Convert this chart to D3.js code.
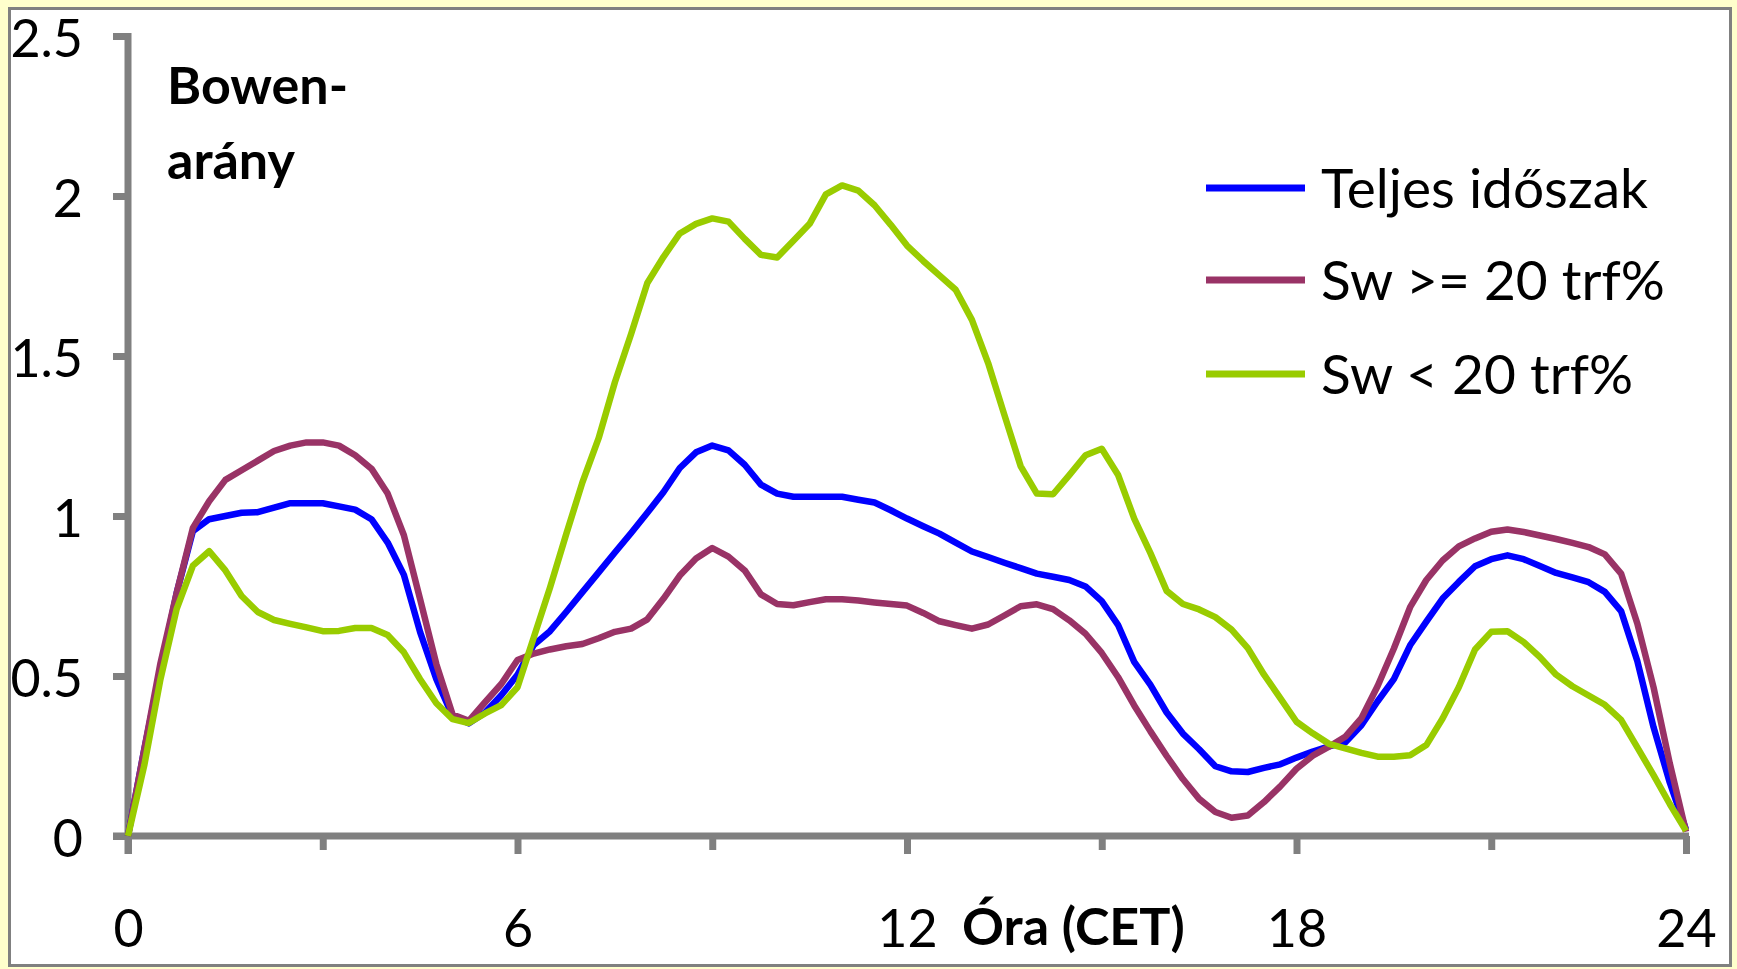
<!DOCTYPE html>
<html>
<head>
<meta charset="utf-8">
<script src="https://cdn.jsdelivr.net/npm/d3@7/dist/d3.min.js"></script>
<style>
  html, body { margin: 0; padding: 0; background: #ffffcc; }
  svg { display: block; }
  text { font-family: Lato, "Open Sans", sans-serif; fill: #000; }
</style>
</head>
<body>
<svg id="chart" width="1737" height="969"></svg>
<script>
// Hour of day (CET), quarter-hour steps from 0 to 24
const hours = d3.range(97).map(i => i / 4);

// Bowen ratio, whole period
const teljes = [
  0.00, 0.27, 0.52, 0.76, 0.953, 0.99, 1.00, 1.01, 1.012, 1.026, 1.04, 1.04, 1.04,
  1.03, 1.02, 0.99, 0.917, 0.816, 0.637, 0.49, 0.374, 0.352, 0.386, 0.44, 0.504,
  0.597, 0.64, 0.70, 0.762, 0.824, 0.886, 0.947, 1.01, 1.075, 1.15, 1.199, 1.22,
  1.205, 1.16, 1.098, 1.07, 1.06, 1.06, 1.06, 1.06, 1.051, 1.042, 1.018, 0.992,
  0.968, 0.945, 0.917, 0.889, 0.872, 0.854, 0.837, 0.82, 0.81, 0.80, 0.78, 0.734,
  0.66, 0.544, 0.472, 0.386, 0.32, 0.271, 0.218, 0.202, 0.20, 0.213, 0.224, 0.245,
  0.264, 0.28, 0.292, 0.346, 0.421, 0.49, 0.596, 0.67, 0.742, 0.794, 0.843, 0.865,
  0.877, 0.865, 0.844, 0.822, 0.808, 0.793, 0.763, 0.703, 0.547, 0.34, 0.167, 0.02
];

// Bowen ratio, soil water >= 20 vol%
const swHigh = [
  0.00, 0.27, 0.54, 0.76, 0.963, 1.046, 1.113, 1.143, 1.173, 1.203, 1.22, 1.23, 1.23,
  1.22, 1.19, 1.148, 1.07, 0.94, 0.74, 0.537, 0.38, 0.36, 0.418, 0.475, 0.55,
  0.57, 0.583, 0.593, 0.60, 0.618, 0.638, 0.648, 0.677, 0.742, 0.814, 0.867, 0.90,
  0.873, 0.83, 0.755, 0.725, 0.721, 0.731, 0.74, 0.74, 0.736, 0.73, 0.725, 0.72,
  0.697, 0.671, 0.659, 0.648, 0.661, 0.689, 0.718, 0.724, 0.709, 0.674, 0.632, 0.572,
  0.497, 0.408, 0.327, 0.25, 0.178, 0.116, 0.075, 0.057, 0.064, 0.106, 0.155, 0.21,
  0.251, 0.279, 0.31, 0.368, 0.469, 0.586, 0.715, 0.80, 0.861, 0.905, 0.93, 0.951,
  0.958, 0.95, 0.939, 0.928, 0.916, 0.903, 0.88, 0.82, 0.664, 0.465, 0.227, 0.013
];

// Bowen ratio, soil water < 20 vol%
const swLow = [
  0.00, 0.22, 0.49, 0.71, 0.845, 0.89, 0.83, 0.75, 0.70, 0.675, 0.663, 0.652, 0.64,
  0.641, 0.65, 0.65, 0.628, 0.574, 0.49, 0.415, 0.365, 0.353, 0.383, 0.409, 0.465,
  0.62, 0.776, 0.943, 1.105, 1.243, 1.418, 1.569, 1.728, 1.81, 1.883, 1.913, 1.93,
  1.92, 1.866, 1.816, 1.808, 1.86, 1.913, 2.005, 2.033, 2.017, 1.971, 1.91, 1.845,
  1.797, 1.752, 1.707, 1.613, 1.478, 1.316, 1.156, 1.07, 1.068, 1.128, 1.19, 1.21,
  1.129, 0.992, 0.884, 0.766, 0.725, 0.708, 0.684, 0.645, 0.587, 0.504, 0.431, 0.357,
  0.321, 0.288, 0.274, 0.26, 0.248, 0.248, 0.252, 0.284, 0.367, 0.465, 0.583, 0.638,
  0.64, 0.606, 0.559, 0.504, 0.468, 0.439, 0.41, 0.363, 0.277, 0.19, 0.10, 0.016
];

const seriesNames = ["Teljes időszak", "Sw >= 20 trf%", "Sw < 20 trf%"];
const seriesColors = ["#0000ff", "#993366", "#99cc00"];
const seriesValues = [teljes, swHigh, swLow];

const yTicks = [0, 0.5, 1, 1.5, 2, 2.5];
const yTickLabels = ["0", "0.5", "1", "1.5", "2", "2.5"];
const xMajorTicks = [0, 6, 12, 18, 24];
const xMajorLabels = ["0", "6", "12", "18", "24"];
const xMinorTicks = [3, 9, 15, 21];

const yTitle = ["Bowen-", "arány"];
const xTitle = "Óra (CET)";

const svg = d3.select("#chart");
const axisColor = "#808080";

// Chart frame
svg.append("rect")
  .attr("x", 9.5).attr("y", 8.5)
  .attr("width", 1721).attr("height", 957)
  .attr("fill", "#ffffff")
  .attr("stroke", axisColor)
  .attr("stroke-width", 3);

const x = d3.scaleLinear().domain([0, 24]).range([128, 1686]);
const y = d3.scaleLinear().domain([0, 2.5]).range([836, 36]);

// Y axis
const yAxis = d3.axisLeft(y)
  .tickValues(yTicks)
  .tickFormat((d, i) => yTickLabels[i])
  .tickSize(15)
  .tickSizeOuter(0)
  .tickPadding(30);
const gy = svg.append("g").attr("transform", `translate(${x(0)},0)`).call(yAxis);
gy.select(".domain").remove();
gy.selectAll(".tick line").attr("stroke", axisColor).attr("stroke-width", 7);
gy.selectAll(".tick text")
  .attr("font-size", 52)
  .attr("font-family", "Lato, 'Open Sans', sans-serif")
  .attr("dy", "0.4em")
  .attr("fill", "#000");

// X axis: minor ticks without labels
const xMinor = d3.axisBottom(x)
  .tickValues(xMinorTicks)
  .tickFormat("")
  .tickSize(14)
  .tickSizeOuter(0);
const gxm = svg.append("g").attr("transform", `translate(0,${y(0)})`).call(xMinor);
gxm.select(".domain").remove();
gxm.selectAll(".tick line").attr("stroke", axisColor).attr("stroke-width", 7);

// X axis: major ticks with labels
const xMajor = d3.axisBottom(x)
  .tickValues(xMajorTicks)
  .tickFormat((d, i) => xMajorLabels[i])
  .tickSize(18)
  .tickSizeOuter(0)
  .tickPadding(56);
const gx = svg.append("g").attr("transform", `translate(0,${y(0)})`).call(xMajor);
gx.select(".domain").remove();
gx.selectAll(".tick line").attr("stroke", axisColor).attr("stroke-width", 7);
gx.selectAll(".tick text")
  .attr("font-size", 52)
  .attr("font-family", "Lato, 'Open Sans', sans-serif")
  .attr("fill", "#000");

// Axis lines
svg.append("line")
  .attr("x1", x(0)).attr("x2", x(0))
  .attr("y1", y(2.5) - 3).attr("y2", y(0) + 18)
  .attr("stroke", axisColor).attr("stroke-width", 7);
svg.append("line")
  .attr("x1", x(0) - 15).attr("x2", x(24) + 3)
  .attr("y1", y(0)).attr("y2", y(0))
  .attr("stroke", axisColor).attr("stroke-width", 7);

// Series lines
const line = d3.line()
  .x((d, i) => x(hours[i]))
  .y(d => y(d));

seriesValues.forEach((vals, k) => {
  svg.append("path")
    .datum(vals)
    .attr("d", line)
    .attr("fill", "none")
    .attr("stroke", seriesColors[k])
    .attr("stroke-width", 6.5)
    .attr("stroke-linejoin", "round");
});

// Axis titles
const yt = svg.append("text")
  .attr("x", 167)
  .attr("font-size", 52)
  .attr("font-weight", "bold");
yt.append("tspan").attr("x", 167).attr("y", 104).text(yTitle[0]);
yt.append("tspan").attr("x", 167).attr("y", 179).text(yTitle[1]);

svg.append("text")
  .attr("x", 962).attr("y", 945)
  .attr("font-size", 52)
  .attr("font-weight", "bold")
  .text(xTitle);

// Legend
const legendY = [188, 280, 374];
seriesNames.forEach((name, k) => {
  svg.append("line")
    .attr("x1", 1206).attr("x2", 1305)
    .attr("y1", legendY[k]).attr("y2", legendY[k])
    .attr("stroke", seriesColors[k])
    .attr("stroke-width", 7);
  svg.append("text")
    .attr("x", 1321).attr("y", legendY[k] + 20)
    .attr("font-size", 55)
    .text(name);
});
</script>
</body>
</html>
